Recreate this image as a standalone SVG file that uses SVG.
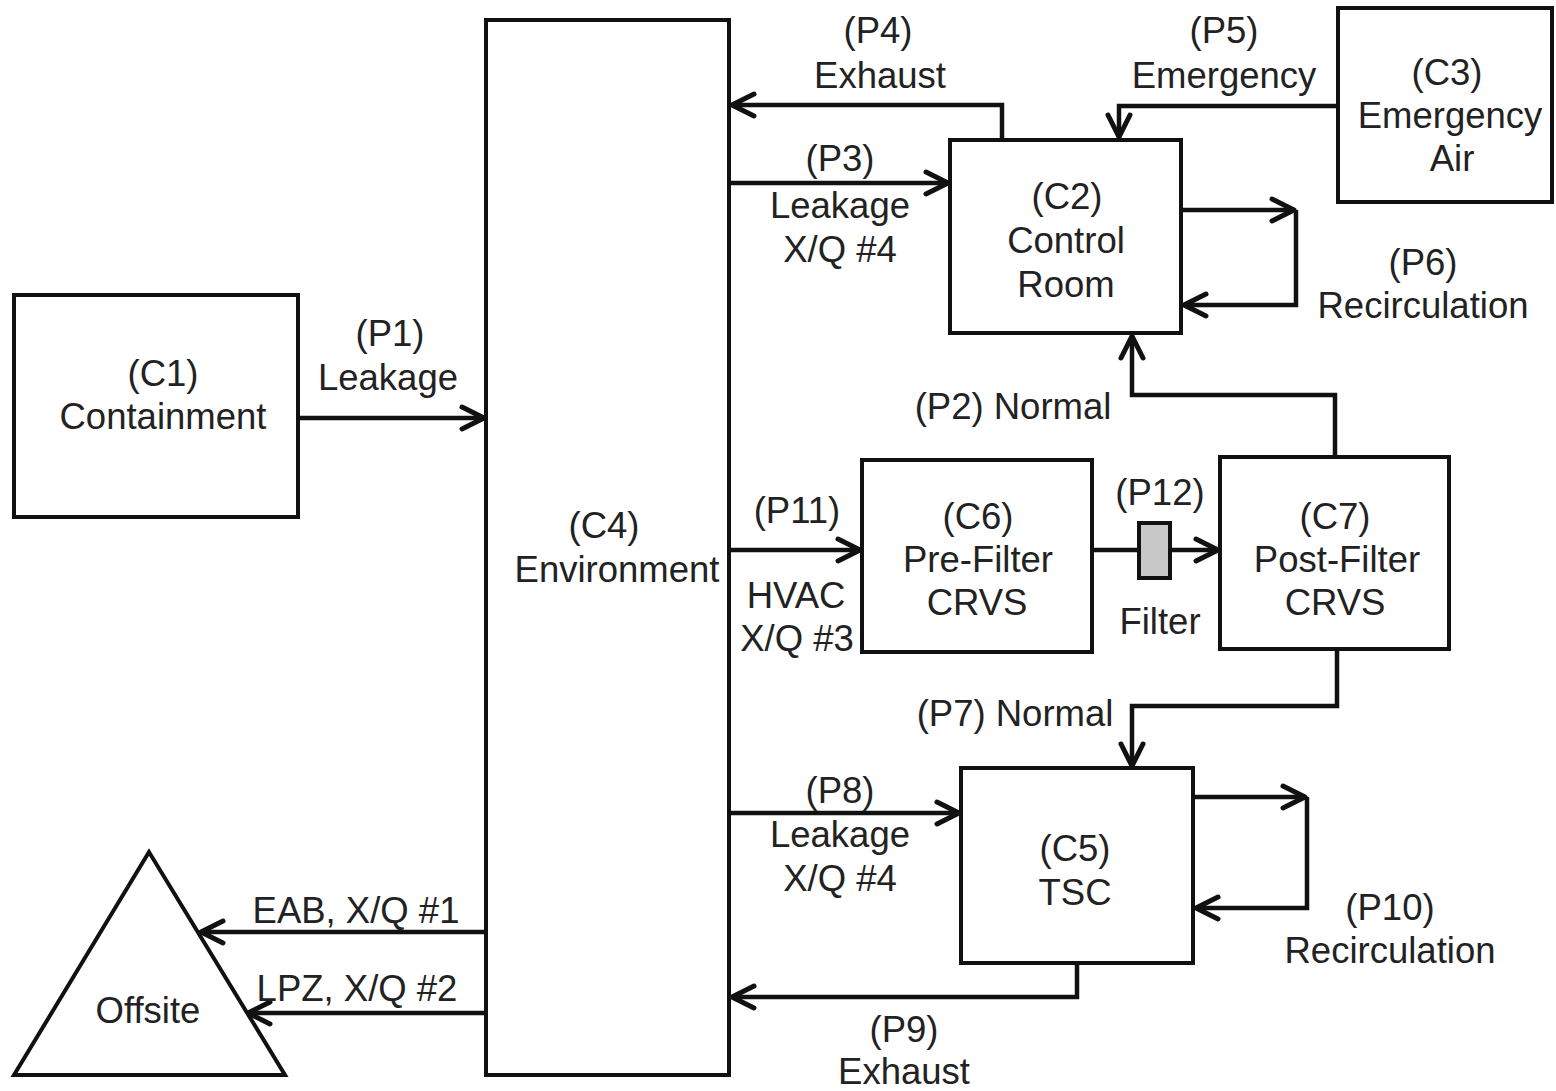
<svg xmlns="http://www.w3.org/2000/svg" width="1556" height="1091" viewBox="0 0 1556 1091">
<defs>
<style>
.box{fill:#fff;stroke:#111;stroke-width:4}
.ln{fill:none;stroke:#111;stroke-width:4.5}
.t{font-family:"Liberation Sans",Arial,sans-serif;font-size:36.5px;fill:#222;text-anchor:middle}
</style>
<marker id="ah" markerUnits="userSpaceOnUse" markerWidth="40" markerHeight="40" viewBox="-30 -20 40 40" refX="0" refY="0" orient="auto">
<path d="M-22,-11 L0,0 L-22,11" fill="none" stroke="#111" stroke-width="5" stroke-linecap="round" stroke-linejoin="round"/>
</marker>
</defs>
<rect width="1556" height="1091" fill="#fff"/>
<g id="connectors">
<path class="ln" d="M298,418 H484" marker-end="url(#ah)"/>
<path class="ln" d="M1002,140 V105 H732" marker-end="url(#ah)"/>
<path class="ln" d="M729,183 H948" marker-end="url(#ah)"/>
<path class="ln" d="M1338,106 H1119 V137" marker-end="url(#ah)"/>
<path class="ln" d="M1181,210 H1294" marker-end="url(#ah)"/>
<path class="ln" d="M1296,210 V305 H1184" marker-end="url(#ah)"/>
<path class="ln" d="M1335,457 V395 H1132 V336" marker-end="url(#ah)"/>
<path class="ln" d="M729,550 H860" marker-end="url(#ah)"/>
<path class="ln" d="M1092,550 H1218" marker-end="url(#ah)"/>
<path class="ln" d="M1337,649 V706 H1132 V766" marker-end="url(#ah)"/>
<path class="ln" d="M729,813 H959" marker-end="url(#ah)"/>
<path class="ln" d="M1193,797 H1305" marker-end="url(#ah)"/>
<path class="ln" d="M1307,797 V908 H1196" marker-end="url(#ah)"/>
<path class="ln" d="M1077,963 V997 H732" marker-end="url(#ah)"/>
<path class="ln" d="M486,932 H201" marker-end="url(#ah)"/>
<path class="ln" d="M486,1013 H248" marker-end="url(#ah)"/>
<rect x="1139" y="523" width="31" height="55" fill="#c8c8c8" stroke="#111" stroke-width="4"/>
<text class="t" x="1160" y="505">(P12)</text>
<text class="t" x="1160" y="634">Filter</text>
</g>
<g id="C1">
<rect class="box" x="14" y="295" width="284" height="222"/>
<text class="t" x="163" y="386">(C1)</text>
<text class="t" x="163" y="429">Containment</text>
</g>
<g id="C4">
<rect class="box" x="486" y="20" width="243" height="1055"/>
<text class="t" x="604" y="538">(C4)</text>
<text class="t" x="617" y="582">Environment</text>
</g>
<g id="C2">
<rect class="box" x="950" y="140" width="231" height="193"/>
<text class="t" x="1067" y="209">(C2)</text>
<text class="t" x="1066" y="253">Control</text>
<text class="t" x="1066" y="297">Room</text>
</g>
<g id="C3">
<rect class="box" x="1338" y="8" width="214" height="194"/>
<text class="t" x="1447" y="85">(C3)</text>
<text class="t" x="1450" y="128">Emergency</text>
<text class="t" x="1452" y="171">Air</text>
</g>
<g id="C6">
<rect class="box" x="862" y="460" width="230" height="192"/>
<text class="t" x="978" y="529">(C6)</text>
<text class="t" x="978" y="572">Pre-Filter</text>
<text class="t" x="977" y="615">CRVS</text>
</g>
<g id="C7">
<rect class="box" x="1220" y="457" width="229" height="192"/>
<text class="t" x="1335" y="529">(C7)</text>
<text class="t" x="1337" y="572">Post-Filter</text>
<text class="t" x="1335" y="615">CRVS</text>
</g>
<g id="C5">
<rect class="box" x="961" y="768" width="232" height="195"/>
<text class="t" x="1075" y="861">(C5)</text>
<text class="t" x="1075" y="905">TSC</text>
</g>
<g id="Offsite">
<polygon class="box" points="149,852 14,1075 285,1075" stroke-linejoin="miter"/>
<text class="t" x="148" y="1023">Offsite</text>
</g>
<g id="labels">
<text class="t" x="390" y="346">(P1)</text>
<text class="t" x="388" y="390">Leakage</text>
<text class="t" x="878" y="43">(P4)</text>
<text class="t" x="880" y="88">Exhaust</text>
<text class="t" x="1224" y="43">(P5)</text>
<text class="t" x="1224" y="88">Emergency</text>
<text class="t" x="840" y="171">(P3)</text>
<text class="t" x="840" y="218">Leakage</text>
<text class="t" x="840" y="262">X/Q #4</text>
<text class="t" x="1423" y="275">(P6)</text>
<text class="t" x="1423" y="318">Recirculation</text>
<text class="t" x="1013" y="419">(P2) Normal</text>
<text class="t" x="797" y="523">(P11)</text>
<text class="t" x="796" y="608">HVAC</text>
<text class="t" x="797" y="651">X/Q #3</text>
<text class="t" x="1015" y="726">(P7) Normal</text>
<text class="t" x="840" y="803">(P8)</text>
<text class="t" x="840" y="847">Leakage</text>
<text class="t" x="840" y="891">X/Q #4</text>
<text class="t" x="1390" y="920">(P10)</text>
<text class="t" x="1390" y="963">Recirculation</text>
<text class="t" x="904" y="1042">(P9)</text>
<text class="t" x="904" y="1084">Exhaust</text>
<text class="t" x="356" y="923">EAB, X/Q #1</text>
<text class="t" x="357" y="1001">LPZ, X/Q #2</text>
</g>
</svg>
